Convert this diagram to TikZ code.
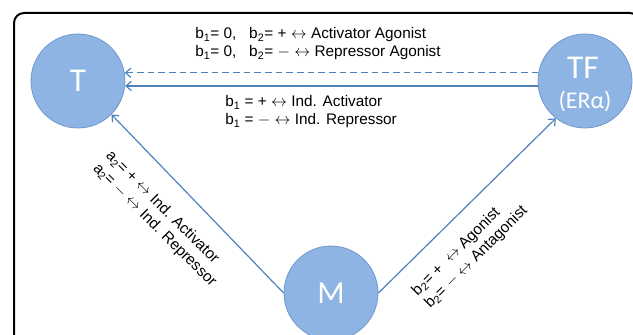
\documentclass[tikz,border=0pt]{standalone}
\usepackage{fontspec}
\setmainfont{Liberation Sans}
\newfontfamily\circfont{Carlito}
\usetikzlibrary{arrows.meta}
\definecolor{nodefill}{RGB}{141,180,226}
\definecolor{nodeedge}{RGB}{112,152,206}
\definecolor{linkblue}{RGB}{79,129,189}
\tikzset{
  species/.style={circle, draw=nodeedge, fill=nodefill, line width=0.6pt, minimum size=70.5pt, inner sep=0pt, text=white},
  link/.style={draw=linkblue, line width=0.9pt, -{Straight Barb[length=4pt,width=7pt]}},
  relation/.style={inner sep=0.75pt, font=\fontsize{11.5}{13.5}\selectfont, align=left}
}
\begin{document}
\begin{tikzpicture}[x=0.75pt,y=0.75pt,yscale=-1,xscale=1]
        \useasboundingbox (0,0) rectangle (633,335);
        
        %Shape: Rectangle [frame]
        \draw [line width=1.5pt, rounded corners=7.5pt]  (14,345) -- (14,13) -- (640,13) -- (640,345) ;
        
        %Shape: Circle [T]
        \node (T) [species] at (78,81) {\circfont\fontsize{25}{25}\selectfont T};
        %Shape: Circle [TF]
        \node (TF) [species] at (585,81) {};
        %Shape: Circle [M]
        \node (M) [species] at (331,293) {\circfont\fontsize{24}{24}\selectfont M};
        % Text Node
        \node (tfName) [inner sep=0.75pt, text=white, font=\circfont\fontsize{25}{25}\selectfont] at (583,68) {TF};
        % Text Node
        \node (tfAlias) [inner sep=0.75pt, text=white, font=\circfont\fontsize{18}{18}\selectfont] at (585,101) {(ERα)};
        
        %Straight Lines [TF -> T]
        \draw [link, dash pattern={on 5pt off 3pt}]  (TF.170) -- (T.10) ;
        \draw [link]  (TF.186) -- (T.-6) ;
        %Straight Lines [M -> T]
        \draw [link]  (M.west) -- (T.-45) ;
        %Straight Lines [M -> TF]
        \draw [link]  (M.east) -- (TF.-128) ;
        
        % Text Node
        \node (txtAgonist) [relation] at (318,44) {b\textsubscript{1}= 0,\ \ \ b\textsubscript{2}= + $\leftrightarrow$ Activator Agonist\\b\textsubscript{1}= 0,\ \ \ b\textsubscript{2}= $-$ $\leftrightarrow$ Repressor Agonist};
        % Text Node
        \node (txtInd) [relation, anchor=west] at (224,112) {b\textsubscript{1} = + $\leftrightarrow$ Ind. Activator\\b\textsubscript{1} = $-$ $\leftrightarrow$ Ind. Repressor};
        % Text Node
        \node (txtTarget) [relation, rotate=-45] at (161,219) {a\textsubscript{2}= + $\leftrightarrow$ Ind. Activator\\a\textsubscript{2}= $-$ $\leftrightarrow$ Ind. Repressor};
        % Text Node
        \node (txtLigand) [relation, rotate=45] at (470,251) {b\textsubscript{2}= +\ \ $\leftrightarrow$ Agonist\\b\textsubscript{2}= $-$ $\leftrightarrow$ Antagonist};
        
\end{tikzpicture}
\end{document}
